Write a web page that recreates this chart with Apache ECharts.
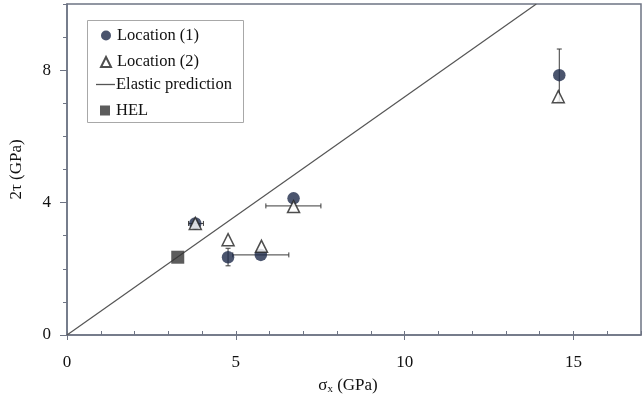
<!DOCTYPE html>
<html>
<head>
<meta charset="utf-8">
<script src="https://cdn.jsdelivr.net/npm/echarts@6/dist/echarts.min.js"></script>
<style>
html,body{margin:0;padding:0;background:#fff;}
#chart{width:644px;height:400px;}
</style>
</head>
<body>
<div id="chart"></div>
<script>
// ---- data ----
var location1 = [[3.8, 3.37], [4.77, 2.35], [5.74, 2.42], [6.71, 4.13], [14.58, 7.85]];
var location2 = [[3.8, 3.37], [4.77, 2.88], [5.76, 2.68], [6.71, 3.88], [14.55, 7.2]];
var hel = [[3.28, 2.35]];
var elastic = [[0, 0], [13.9, 10]];
// horizontal error bars: [y, xLow, xHigh]
var errorX = [[3.37, 3.6, 4.04], [2.42, 4.91, 6.57], [3.9, 5.89, 7.52]];
// vertical error bars: [x, yLow, yHigh]
var errorY = [[4.77, 2.09, 2.62], [14.58, 7.06, 8.64]];
var xLabels = [0, 5, 10, 15];
var yLabels = [0, 4, 8];

var FONT = '"Liberation Serif", "Times New Roman", serif';
var AXIS = '#6e7484';
var chart = echarts.init(document.getElementById('chart'));

function errX(params, api) {
  var y = api.value(0), lo = api.value(1), hi = api.value(2);
  var p1 = api.coord([lo, y]), p2 = api.coord([hi, y]);
  var st = {stroke: '#3a3a3a', lineWidth: 1};
  return {type: 'group', children: [
    {type: 'line', shape: {x1: p1[0], y1: p1[1], x2: p2[0], y2: p2[1]}, style: st},
    {type: 'line', shape: {x1: p1[0], y1: p1[1] - 2.5, x2: p1[0], y2: p1[1] + 2.5}, style: st},
    {type: 'line', shape: {x1: p2[0], y1: p2[1] - 2.5, x2: p2[0], y2: p2[1] + 2.5}, style: st}
  ]};
}
function errY(params, api) {
  var x = api.value(0), lo = api.value(1), hi = api.value(2);
  var p1 = api.coord([x, lo]), p2 = api.coord([x, hi]);
  var st = {stroke: '#3a3a3a', lineWidth: 1};
  return {type: 'group', children: [
    {type: 'line', shape: {x1: p1[0], y1: p1[1], x2: p2[0], y2: p2[1]}, style: st},
    {type: 'line', shape: {x1: p1[0] - 2.5, y1: p1[1], x2: p1[0] + 2.5, y2: p1[1]}, style: st},
    {type: 'line', shape: {x1: p2[0] - 2.5, y1: p2[1], x2: p2[0] + 2.5, y2: p2[1]}, style: st}
  ]};
}

var legendText = {fontFamily: FONT, fontSize: 16.5, color: '#111'};
var option = {
  animation: false,
  backgroundColor: '#fff',
  grid: {left: 67, right: -4, top: 4, bottom: 64, show: true, borderColor: AXIS, borderWidth: 1.5},
  graphic: [{
    type: 'rect', left: 87, top: 20, z: 0,
    shape: {width: 156, height: 102},
    style: {fill: '#fff', stroke: '#a8a8a8', lineWidth: 1}
  }],
  legend: [{
    orient: 'vertical', left: 100, top: 27, padding: 0,
    data: ['Location (1)', 'Location (2)'],
    itemWidth: 10, itemHeight: 10, itemGap: 9.5,
    textStyle: {fontFamily: FONT, fontSize: 16.5, color: '#111', padding: [0, 0, 0, 1]}
  }, {
    orient: 'vertical', left: 96, top: 76, padding: 0,
    data: [{name: 'Elastic prediction', icon: 'rect'}],
    itemWidth: 19, itemHeight: 1.3,
    textStyle: {fontFamily: FONT, fontSize: 16.5, color: '#111', padding: [0, 0, 0, -4]}
  }, {
    orient: 'vertical', left: 100, top: 102, padding: 0,
    data: [{name: 'HEL', icon: 'rect'}],
    itemWidth: 10, itemHeight: 10,
    textStyle: {fontFamily: FONT, fontSize: 16.5, color: '#111', padding: [0, 0, 0, 1]}
  }],
  xAxis: [{
    type: 'value', min: 0, max: 17, interval: 1,
    name: '{a|σ}{s|x}{a| (GPa)}', nameLocation: 'middle', nameGap: 41,
    nameTextStyle: {padding: [0, 12, 0, 0], rich: {
      a: {fontFamily: FONT, fontSize: 17, color: '#111'},
      s: {fontFamily: FONT, fontSize: 11, color: '#111', verticalAlign: 'bottom', padding: [8, 0, 0, 0]}
    }},
    axisLine: {lineStyle: {color: AXIS, width: 1.5}},
    axisTick: {inside: true, length: 4, lineStyle: {color: AXIS}},
    axisLabel: {margin: 19, fontFamily: FONT, fontSize: 17, color: '#111',
      formatter: function (v) { return xLabels.indexOf(v) >= 0 ? String(v) : ''; }},
    splitLine: {show: false}
  }, {
    type: 'value', min: 0, max: 17, interval: 5, position: 'bottom',
    axisLine: {show: false},
    axisTick: {length: 5, customValues: xLabels, lineStyle: {color: AXIS}},
    axisLabel: {show: false}, splitLine: {show: false}
  }],
  yAxis: [{
    type: 'value', min: 0, max: 10, interval: 1,
    name: '2τ (GPa)', nameLocation: 'middle', nameGap: 42, nameRotate: 90,
    nameTextStyle: {fontFamily: FONT, fontSize: 17, color: '#111'},
    axisLine: {lineStyle: {color: AXIS, width: 1.5}},
    axisTick: {length: 4, lineStyle: {color: AXIS}},
    axisLabel: {margin: 16, fontFamily: FONT, fontSize: 17, color: '#111',
      formatter: function (v) { return yLabels.indexOf(v) >= 0 ? String(v) : ''; }},
    splitLine: {show: false}
  }, {
    type: 'value', min: 0, max: 10, interval: 4, position: 'left',
    axisLine: {show: false},
    axisTick: {length: 7, customValues: yLabels, lineStyle: {color: AXIS}},
    axisLabel: {show: false}, splitLine: {show: false}
  }],
  series: [
    {name: 'Elastic prediction', type: 'line', data: elastic, symbol: 'none',
      lineStyle: {color: '#555', width: 1.2}, itemStyle: {color: '#555'}, z: 1},
    {name: 'errx', type: 'custom', renderItem: errX, data: errorX, z: 2, silent: true},
    {name: 'erry', type: 'custom', renderItem: errY, data: errorY, z: 2, silent: true},
    {name: 'HEL', type: 'scatter', data: hel, symbol: 'rect', symbolSize: 13, symbolKeepAspect: true,
      itemStyle: {color: '#333'}, z: 3},
    {name: 'Location (1)', type: 'scatter', data: location1, symbol: 'circle', symbolSize: 12.5,
      symbolKeepAspect: true, itemStyle: {color: '#1e2b4a'}, z: 4},
    {name: 'Location (2)', type: 'scatter', data: location2, symbol: 'triangle', symbolSize: 12,
      symbolKeepAspect: true,
      itemStyle: {color: '#fff', borderColor: '#222', borderWidth: 1.5}, z: 5}
  ]
};
chart.setOption(option);
</script>
</body>
</html>
